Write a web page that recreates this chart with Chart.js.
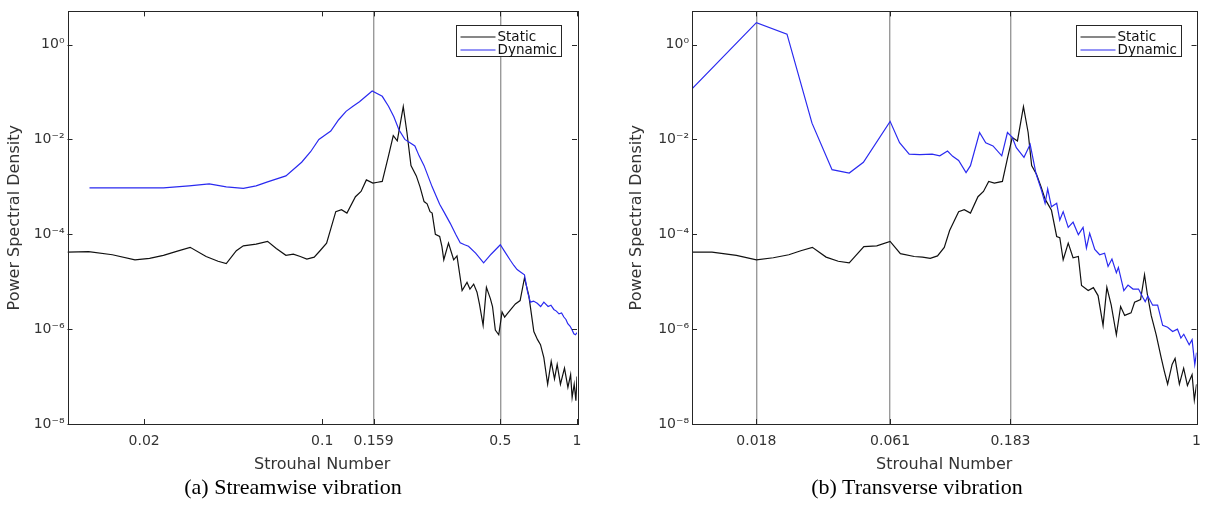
<!DOCTYPE html>
<html>
<head>
<meta charset="utf-8">
<script src="https://cdn.jsdelivr.net/npm/chart.js@4.4.1/dist/chart.umd.min.js"></script>
<style>
  body { margin: 0; background: #fff; width: 1210px; height: 513px; position: relative; overflow: hidden; }
  .panel { position: absolute; top: 0; width: 600px; height: 480px; }
  .caption { position: absolute; top: 475px; line-height: 24px; font-family: 'Liberation Serif', serif; font-size: 22px; color: #000; transform: translateX(-50%); white-space: nowrap; }
</style>
</head>
<body>
<div class="panel" style="left:0"><canvas id="chartA"></canvas></div>
<div class="panel" style="left:610px"><canvas id="chartB"></canvas></div>
<div class="caption" style="left:293px">(a) Streamwise vibration</div>
<div class="caption" style="left:917px">(b) Transverse vibration</div>
<script>
// (a) streamwise - static
const stFreqA = [0.01, 0.0121, 0.015, 0.0184, 0.021, 0.0238, 0.027, 0.0303, 0.035, 0.039, 0.042, 0.046, 0.049, 0.055, 0.061, 0.066, 0.072, 0.077, 0.082, 0.087, 0.093, 0.098, 0.104, 0.108, 0.113, 0.119, 0.125, 0.135, 0.142, 0.149, 0.158, 0.165, 0.172, 0.182, 0.19, 0.197, 0.208, 0.215, 0.223, 0.234, 0.242, 0.251, 0.258, 0.265, 0.27, 0.278, 0.289, 0.295, 0.30, 0.313, 0.328, 0.338, 0.354, 0.37, 0.38, 0.393, 0.405, 0.414, 0.428, 0.441, 0.457, 0.466, 0.478, 0.493, 0.508, 0.52, 0.532, 0.55, 0.573, 0.598, 0.622, 0.647, 0.677, 0.7, 0.719, 0.741, 0.767, 0.792, 0.816, 0.836, 0.861, 0.893, 0.921, 0.944, 0.957, 0.975, 0.99, 1.0];
const staticA = [4.2e-5, 4.3e-5, 3.7e-5, 2.9e-5, 3.1e-5, 3.6e-5, 4.4e-5, 5.3e-5, 3.4e-5, 2.7e-5, 2.4e-5, 4.5e-5, 5.7e-5, 6.2e-5, 7.1e-5, 5.0e-5, 3.6e-5, 3.8e-5, 3.4e-5, 3.0e-5, 3.3e-5, 4.5e-5, 6.5e-5, 1.3e-4, 3.0e-4, 3.3e-4, 2.8e-4, 6.2e-4, 8.0e-4, 1.4e-3, 1.2e-3, 1.25e-3, 1.3e-3, 4.5e-3, 1.2e-2, 9.3e-3, 4.9e-2, 1.4e-2, 2.8e-3, 1.7e-3, 1.0e-3, 4.9e-4, 4.4e-4, 3.0e-4, 2.8e-4, 1.0e-4, 9.0e-5, 5.5e-5, 2.9e-5, 6.5e-5, 2.9e-5, 3.5e-5, 6.5e-6, 9.7e-6, 7.0e-6, 8.9e-6, 6.0e-6, 3.4e-6, 1.2e-6, 7.6e-6, 4.4e-6, 3.0e-6, 9.6e-7, 7.6e-7, 2.3e-6, 1.8e-6, 2.1e-6, 2.6e-6, 3.4e-6, 4.0e-6, 1.2e-5, 5.1e-6, 8.9e-7, 6.0e-7, 4.7e-7, 2.5e-7, 6.9e-8, 2.1e-7, 8.9e-8, 1.8e-7, 6.9e-8, 1.5e-7, 5.9e-8, 1.1e-7, 3.6e-8, 6.9e-8, 3.1e-8, 1.0e-7];

// (a) streamwise - dynamic
const dynFreqA = [0.0122, 0.018, 0.0238, 0.030, 0.036, 0.042, 0.049, 0.055, 0.061, 0.072, 0.083, 0.090, 0.097, 0.103, 0.108, 0.116, 0.124, 0.132, 0.140, 0.157, 0.172, 0.182, 0.191, 0.200, 0.211, 0.221, 0.231, 0.240, 0.251, 0.27, 0.289, 0.30, 0.318, 0.334, 0.348, 0.362, 0.375, 0.40, 0.43, 0.46, 0.5, 0.525, 0.548, 0.565, 0.582, 0.60, 0.622, 0.64, 0.656, 0.675, 0.698, 0.72, 0.741, 0.77, 0.79, 0.811, 0.83, 0.85, 0.87, 0.888, 0.905, 0.92, 0.94, 0.957, 0.972, 0.986, 1.0];
const dynamicA = [9.5e-4, 9.5e-4, 9.5e-4, 1.05e-3, 1.15e-3, 1.0e-3, 9.3e-4, 1.05e-3, 1.27e-3, 1.7e-3, 3.3e-3, 5.5e-3, 1.0e-2, 1.25e-2, 1.5e-2, 2.6e-2, 3.9e-2, 5.0e-2, 6.2e-2, 0.105, 0.081, 0.05, 0.03, 1.6e-2, 1.0e-2, 8.5e-3, 7.3e-3, 4.5e-3, 2.8e-3, 1.0e-3, 4.3e-4, 3.0e-4, 1.7e-4, 1.0e-4, 6.6e-5, 6.0e-5, 5.6e-5, 4.0e-5, 2.5e-5, 3.8e-5, 6.0e-5, 4.0e-5, 2.8e-5, 2.2e-5, 1.8e-5, 1.6e-5, 1.4e-5, 6.0e-6, 3.7e-6, 3.9e-6, 3.5e-6, 3.0e-6, 3.7e-6, 3.0e-6, 3.2e-6, 2.6e-6, 2.4e-6, 2.1e-6, 2.2e-6, 1.8e-6, 1.6e-6, 1.3e-6, 1.15e-6, 9.6e-7, 8.0e-7, 7.6e-7, 8.4e-7];

// (b) transverse - static
const stFreqB = [0.01, 0.012, 0.015, 0.018, 0.021, 0.0242, 0.027, 0.03, 0.034, 0.038, 0.042, 0.048, 0.054, 0.061, 0.067, 0.076, 0.082, 0.088, 0.094, 0.1, 0.105, 0.114, 0.12, 0.127, 0.136, 0.143, 0.15, 0.158, 0.17, 0.178, 0.186, 0.195, 0.206, 0.215, 0.222, 0.232, 0.242, 0.251, 0.266, 0.279, 0.287, 0.296, 0.31, 0.324, 0.34, 0.35, 0.372, 0.39, 0.407, 0.426, 0.441, 0.459, 0.481, 0.5, 0.519, 0.55, 0.568, 0.6, 0.622, 0.638, 0.661, 0.692, 0.724, 0.745, 0.768, 0.8, 0.822, 0.855, 0.889, 0.92, 0.96, 0.98, 1.0];
const staticB = [4.2e-5, 4.2e-5, 3.6e-5, 2.9e-5, 3.2e-5, 3.7e-5, 4.5e-5, 5.3e-5, 3.3e-5, 2.7e-5, 2.5e-5, 5.5e-5, 5.7e-5, 7.1e-5, 3.9e-5, 3.4e-5, 3.3e-5, 3.1e-5, 3.5e-5, 5.3e-5, 1.2e-4, 3.0e-4, 3.3e-4, 2.8e-4, 6.2e-4, 8.0e-4, 1.3e-3, 1.2e-3, 1.3e-3, 4.0e-3, 1.1e-2, 9.3e-3, 4.9e-2, 1.4e-2, 2.8e-3, 1.85e-3, 1.0e-3, 5.5e-4, 3.2e-4, 9.0e-5, 8.5e-5, 2.9e-5, 6.5e-5, 3.2e-5, 3.4e-5, 8.3e-6, 6.5e-6, 7.5e-6, 5.1e-6, 1.2e-6, 7.6e-6, 3.2e-6, 7.6e-7, 3.0e-6, 1.95e-6, 2.2e-6, 3.7e-6, 4.2e-6, 1.4e-5, 5.5e-6, 1.95e-6, 7.6e-7, 2.5e-7, 1.3e-7, 6.9e-8, 1.8e-7, 2.4e-7, 6.9e-8, 1.5e-7, 6.5e-8, 1.1e-7, 3.2e-8, 6.9e-8];

// (b) transverse - dynamic
const dynFreqB = [0.01, 0.018, 0.0238, 0.0299, 0.0359, 0.042, 0.0478, 0.061, 0.0665, 0.0726, 0.08, 0.0895, 0.096, 0.103, 0.108, 0.114, 0.122, 0.127, 0.138, 0.146, 0.156, 0.169, 0.178, 0.186, 0.193, 0.207, 0.219, 0.231, 0.243, 0.251, 0.257, 0.266, 0.279, 0.287, 0.296, 0.31, 0.324, 0.34, 0.355, 0.366, 0.377, 0.395, 0.413, 0.432, 0.446, 0.462, 0.481, 0.49, 0.515, 0.535, 0.56, 0.589, 0.612, 0.626, 0.641, 0.67, 0.701, 0.734, 0.768, 0.804, 0.84, 0.867, 0.89, 0.935, 0.96, 0.984, 1.0];
const dynamicB = [0.117, 2.9, 1.66, 0.022, 2.3e-3, 1.95e-3, 3.3e-3, 0.024, 8.5e-3, 4.9e-3, 4.8e-3, 4.9e-3, 4.5e-3, 5.7e-3, 4.4e-3, 3.6e-3, 2.0e-3, 2.8e-3, 1.4e-2, 8.5e-3, 7.3e-3, 4.5e-3, 1.4e-2, 1.1e-2, 6.7e-3, 4.2e-3, 7.9e-3, 1.9e-3, 8.3e-4, 4.5e-4, 9.1e-4, 3.8e-4, 4.5e-4, 2.0e-4, 3.0e-4, 1.4e-4, 1.8e-4, 9.8e-5, 1.4e-4, 5.1e-5, 1.05e-4, 4.8e-5, 3.7e-5, 4.0e-5, 2.1e-5, 3.0e-5, 1.55e-5, 2.0e-5, 6.5e-6, 8.5e-6, 7.0e-6, 7.0e-6, 4.7e-6, 3.8e-6, 5.0e-6, 3.2e-6, 3.2e-6, 1.2e-6, 1.1e-6, 8.9e-7, 1.0e-6, 6.5e-7, 7.8e-7, 4.7e-7, 6.0e-7, 1.8e-7, 3.2e-7];

// tick labels and marker lines
const xLabelsA = [0.02, 0.1, 0.159, 0.5, 1];
const xLinesA = [0.159, 0.5];
const xLabelsB = [0.018, 0.061, 0.183, 1];
const xLinesB = [0.018, 0.061, 0.183];
const yLabelExps = [0, -2, -4, -6, -8];

const SUP = { '-': '\u207B', '0': '\u2070', '2': '\u00B2', '4': '\u2074', '6': '\u2076', '8': '\u2078' };
const AXIS_COLOR = '#262626';

Chart.defaults.font.family = '"DejaVu Sans", sans-serif';
Chart.defaults.color = '#333';

const near = (a, b) => Math.abs(a - b) < 1e-9 * Math.max(1, Math.abs(b));

function logTicks(fromExp, toExp, max, extra) {
    const vals = [];
    for (let k = fromExp; k <= toExp; k++) {
        for (let m = 1; m <= 9; m++) {
            const v = Number((m * Math.pow(10, k)).toPrecision(6));
            if (v <= max + 1e-12) vals.push(v);
        }
    }
    extra.forEach(v => { if (!vals.some(u => near(u, v))) vals.push(v); });
    return vals.sort((a, b) => a - b).map(v => ({ value: v }));
}

function zip(xs, ys) {
    return xs.map((x, i) => ({ x, y: ys[i] }));
}

// MATLAB-style box with inward ticks on all four sides
const boxAxes = {
    id: 'boxAxes',
    afterDatasetsDraw(chart) {
        const { ctx, chartArea: a, scales } = chart;
        ctx.save();
        ctx.strokeStyle = AXIS_COLOR;
        ctx.lineWidth = 1;
        ctx.beginPath();
        scales.x.ticks.forEach(t => {
            const px = Math.round(scales.x.getPixelForValue(t.value)) + 0.5;
            const len = t.label ? 5 : 3;
            ctx.moveTo(px, a.bottom); ctx.lineTo(px, a.bottom - len);
            ctx.moveTo(px, a.top); ctx.lineTo(px, a.top + len);
        });
        scales.y.ticks.forEach(t => {
            const py = Math.round(scales.y.getPixelForValue(t.value)) + 0.5;
            const len = t.label ? 5 : 3;
            ctx.moveTo(a.left, py); ctx.lineTo(a.left + len, py);
            ctx.moveTo(a.right, py); ctx.lineTo(a.right - len, py);
        });
        ctx.stroke();
        ctx.strokeRect(Math.round(a.left) + 0.5, Math.round(a.top) + 0.5, Math.round(a.right - a.left), Math.round(a.bottom - a.top));
        ctx.restore();
    }
};

// legend in a framed box, top right inside the axes
const boxLegend = {
    id: 'boxLegend',
    afterDraw(chart) {
        const { ctx, chartArea: a } = chart;
        const sets = chart.data.datasets;
        ctx.save();
        ctx.font = '13.5px "DejaVu Sans"';
        const textW = Math.max(...sets.map(d => ctx.measureText(d.label).width));
        const w = Math.round(41 + textW + 4), h = 31;
        const x0 = Math.round(a.right - 16 - w) + 0.5, y0 = Math.round(a.top + 14) + 0.5;
        ctx.fillStyle = '#fff';
        ctx.fillRect(x0, y0, w, h);
        ctx.strokeStyle = AXIS_COLOR;
        ctx.lineWidth = 1;
        ctx.strokeRect(x0, y0, w, h);
        ctx.textBaseline = 'middle';
        sets.forEach((d, i) => {
            const y = y0 + 11.5 + i * 13;
            ctx.strokeStyle = d.borderColor;
            ctx.lineWidth = 1.2;
            ctx.beginPath();
            ctx.moveTo(x0 + 4, y); ctx.lineTo(x0 + 39, y);
            ctx.stroke();
            ctx.fillStyle = '#111';
            ctx.fillText(d.label, x0 + 41, y);
        });
        ctx.restore();
    }
};

function createChart(canvasId, st, dyn, xLabels, xLines, padLeft, yWidth, padRight) {
    const ctx = document.getElementById(canvasId).getContext('2d');
    return new Chart(ctx, {
        type: 'line',
        data: {
            datasets: [{
                label: 'Static',
                data: st,
                borderColor: '#111111',
                borderWidth: 1.2,
                pointRadius: 0,
                tension: 0,
                order: 1,
            }, {
                label: 'Dynamic',
                data: dyn,
                borderColor: '#2a2af0',
                borderWidth: 1.2,
                pointRadius: 0,
                tension: 0,
                order: 0,
            }],
        },
        options: {
            responsive: true,
            maintainAspectRatio: false,
            animation: false,
            layout: { padding: { left: padLeft, right: padRight, top: 3, bottom: 6 } },
            plugins: {
                legend: { display: false },
                tooltip: { enabled: false },
            },
            scales: {
                x: {
                    type: 'logarithmic',
                    min: 0.01,
                    max: 1,
                    afterBuildTicks: scale => { scale.ticks = logTicks(-2, 0, 1, xLabels); },
                    afterFit: scale => { scale.height = 50; },
                    ticks: {
                        autoSkip: false,
                        maxRotation: 0,
                        padding: 9,
                        font: { size: 14 },
                        color: '#333',
                        callback: value => xLabels.some(v => near(v, value)) ? String(value) : null,
                    },
                    grid: {
                        drawTicks: false,
                        lineWidth: 1.4,
                        color: c => (c.tick && xLines.some(v => near(v, c.tick.value))) ? '#9a9a9a' : 'rgba(0,0,0,0)',
                    },
                    border: { display: false },
                    title: { display: true, text: 'Strouhal Number', font: { size: 16 }, color: '#333', padding: 0 },
                },
                y: {
                    type: 'logarithmic',
                    min: 1e-8,
                    max: 5,
                    afterBuildTicks: scale => { scale.ticks = logTicks(-8, 0, 5, []); },
                    afterFit: scale => { scale.width = yWidth; },
                    ticks: {
                        autoSkip: false,
                        padding: 3,
                        font: { size: 14 },
                        color: '#333',
                        callback: value => {
                            const e = Math.round(Math.log10(value));
                            if (!near(Math.pow(10, e), value) || !yLabelExps.includes(e)) return null;
                            return '10' + String(e).split('').map(ch => SUP[ch]).join('');
                        },
                    },
                    grid: { display: false, drawTicks: false },
                    border: { display: false },
                    title: { display: true, text: 'Power Spectral Density', font: { size: 16 }, color: '#333', padding: 0 },
                },
            },
        },
        plugins: [boxAxes, boxLegend],
    });
}

createChart('chartA', zip(stFreqA, staticA), zip(dynFreqA, dynamicA), xLabelsA, xLinesA, 5, 62.5, 23);
createChart('chartB', zip(stFreqB, staticB), zip(dynFreqB, dynamicB), xLabelsB, xLinesB, 17, 65, 11);
</script>
</body>
</html>
